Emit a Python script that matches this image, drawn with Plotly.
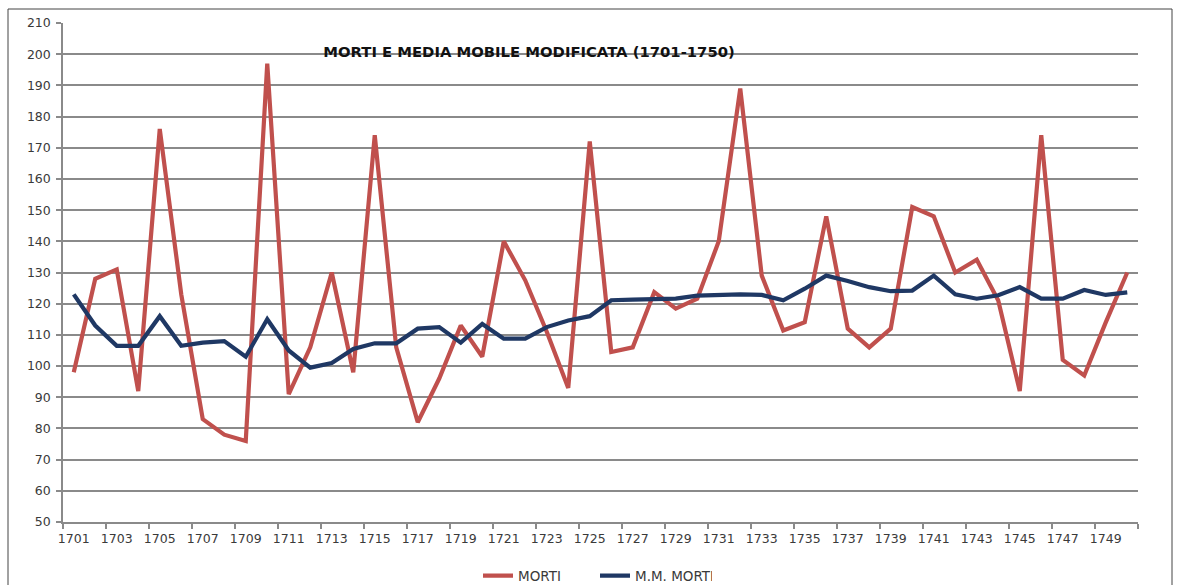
import plotly.graph_objects as go

# Years covered by the series
years = list(range(1701, 1751))

# Annual deaths
morti = [98, 128, 131, 92, 176, 123, 83, 78, 76, 197,
         91, 106, 130, 98, 174, 106, 82, 96, 113, 103,
         140, 127.5, 111, 93, 172, 104.5, 106, 123.7, 118.4, 121.6,
         140, 189, 129, 111.4, 114.1, 148, 112, 106, 112, 151,
         148, 130, 134.1, 121, 92, 174, 102, 97, 114, 130]

# Modified moving average of deaths
mm_morti = [123, 113, 106.5, 106.5, 116, 106.5, 107.5, 108, 103, 115,
            105, 99.5, 101, 105.5, 107.3, 107.3, 112, 112.5, 107.5, 113.5,
            108.8, 108.8, 112.5, 114.6, 116, 121.1, 121.3, 121.4, 121.6, 122.6,
            122.8, 123, 122.8, 121.1, 124.8, 129, 127.3, 125.3, 124, 124.2,
            129, 123, 121.6, 122.7, 125.3, 121.6, 121.6, 124.4, 122.8, 123.6]

# Labelled years on the category axis
tick_labels = [str(y) for y in range(1701, 1751, 2)]

RED = "#C0504D"
BLUE = "#1F3864"
GRID = "#8a8a8a"
TEXT = "#3a3a3a"

fig = go.Figure()
fig.add_trace(go.Scatter(x=years, y=morti, mode="lines", name="MORTI",
                         line=dict(color=RED, width=4.2)))
fig.add_trace(go.Scatter(x=years, y=mm_morti, mode="lines", name="M.M. MORTI",
                         line=dict(color=BLUE, width=4.2)))

# boundaries between every second category carry the tick marks
boundaries = [int(t) - 0.5 for t in tick_labels] + [int(tick_labels[-1]) + 1.5]

fig.update_layout(
    width=1180, height=585,
    margin=dict(l=63, r=42, t=23, b=63, autoexpand=False),
    paper_bgcolor="white", plot_bgcolor="white",
    font=dict(family="DejaVu Sans", size=12.5, color=TEXT),
    title=dict(text="<b>MORTI E MEDIA MOBILE MODIFICATA (1701-1750)</b>",
               font=dict(family="DejaVu Sans", size=14.8, color="#111111"),
               x=529 / 1180, xanchor="center", xref="container",
               y=1 - 52 / 585, yanchor="middle", yref="container"),
    showlegend=True,
    legend=dict(orientation="h", x=(478 - 63) / 1075, xanchor="left",
                y=-0.108, yanchor="middle",
                entrywidth=72, entrywidthmode="pixels",
                font=dict(family="DejaVu Sans", size=13.5, color=TEXT),
                bgcolor="rgba(0,0,0,0)", traceorder="normal"),
    xaxis=dict(range=[1700.5, 1750.5], tickmode="array",
               tickvals=[int(t) for t in tick_labels], ticktext=tick_labels,
               ticks="", showgrid=False, zeroline=False,
               showline=True, linecolor=GRID, linewidth=1.5,
               ticklabelstandoff=4,
               minor=dict(tickmode="array", tickvals=boundaries, ticks="outside",
                          ticklen=5, tickwidth=1.5, tickcolor=GRID, showgrid=False)),
    yaxis=dict(range=[50, 210], tickmode="linear", tick0=50, dtick=10,
               showgrid=True, gridcolor=GRID, gridwidth=1.5, zeroline=False,
               showline=True, linecolor=GRID, linewidth=1.5,
               ticks="outside", ticklen=5, tickwidth=1.5, tickcolor=GRID,
               ticklabelstandoff=3),
    shapes=[dict(type="rect", xref="paper", yref="paper",
                 x0=(8 - 63) / 1075, x1=(1172 - 63) / 1075,
                 y0=-0.2, y1=(522 - 9) / 499,
                 line=dict(color="#444444", width=1), fillcolor="rgba(0,0,0,0)",
                 layer="below")],
)

fig.write_html("out.html")
